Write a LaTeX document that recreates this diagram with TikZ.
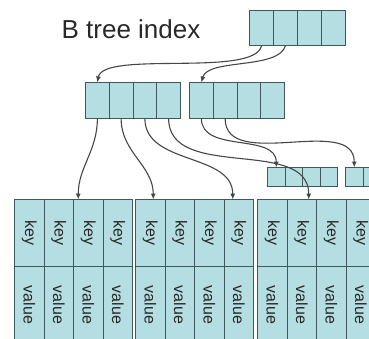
\documentclass[tikz,border=0pt]{standalone}
\usepackage{fontspec}
\setmainfont{Liberation Sans}
\usetikzlibrary{matrix,arrows.meta}
\newlength{\mydrawlinewidth}
\setlength{\mydrawlinewidth}{1pt}
\definecolor{cellfill}{RGB}{181,222,226}
\definecolor{celledge}{RGB}{62,88,92}
\definecolor{linkgray}{RGB}{70,70,70}
\definecolor{textgray}{RGB}{40,40,40}
\newcommand{\sidetext}[1]{\rotatebox{-90}{#1}}
\tikzset{
    cellgrid/.style={%
        matrix of nodes,%
        nodes in empty cells,%
        column sep=-\mydrawlinewidth,%
        row sep=-\mydrawlinewidth,%
        anchor=north west,%
        inner sep=0pt,outer sep=0pt,%
        },
    boxcell/.style={%
        rectangle,draw=celledge,fill=cellfill,
        line width=\mydrawlinewidth,
        anchor=center,
        inner sep=0pt,outer sep=0pt,
        text=textgray,
        font=\fontsize{16}{18}\selectfont,
        },
    link/.style={draw=linkgray,line width=1.1pt,-{Latex[length=6pt,width=5pt]}},
}

\begin{document}
\begin{tikzpicture}[x=1pt,y=1pt]
    \useasboundingbox (0,0) rectangle (369,-338);
    \clip (0,0) rectangle (369,-338);

    \node (title) [font=\fontsize{26}{30}\selectfont, text=textgray] at (131,-29) {B tree index};

    % index levels
    \matrix (root) [cellgrid, nodes={boxcell, minimum width=24pt, minimum height=35pt}] at (249,-10)
    {
      & & & \\
    };
    \matrix (lft) [cellgrid, nodes={boxcell, minimum width=23.75pt, minimum height=36pt}] at (85,-82)
    {
      & & & \\
    };
    \matrix (rgt) [cellgrid, nodes={boxcell, minimum width=23.75pt, minimum height=36pt}] at (189,-82)
    {
      & & & \\
    };
    \matrix (sma) [cellgrid, nodes={boxcell, minimum width=17.5pt, minimum height=19pt}] at (267,-167)
    {
      & & & \\
    };
    \matrix (smb) [cellgrid, nodes={boxcell, minimum width=17.5pt, minimum height=19pt}] at (345,-167)
    {
      & & & \\
    };

    % leaves
    \foreach \leaf/\lx in {leafa/14, leafb/135, leafc/257} {
        \matrix (\leaf) [cellgrid, ampersand replacement=\&,
            nodes={boxcell, minimum width=29.5pt},
            row 1/.style={nodes={minimum height=67pt}},
            row 2/.style={nodes={minimum height=77pt}}] at (\lx,-199)
        {
          \sidetext{key} \& \sidetext{key} \& \sidetext{key} \& \sidetext{key}\\
          \sidetext{value} \& \sidetext{value} \& \sidetext{value} \& \sidetext{value}\\
        };
    }

    % pointers
    \draw[link] (root-1-1.south) to[out=-100,in=80,looseness=0.5] (lft-1-1.north);
    \draw[link] (root-1-2.south) to[out=-105,in=75,looseness=0.7] (rgt-1-1.north);
    \draw[link] (lft-1-1.south) to[out=-90,in=90] ([xshift=-10pt]leafa-1-3.north);
    \draw[link] (lft-1-2.south) to[out=-90,in=90] ([xshift=3pt]leafb-1-1.north);
    \draw[link] (lft-1-3.south) to[out=-90,in=90] ([xshift=-6pt]leafb-1-4.north);
    \draw[link] (lft-1-4.south) to[out=-90,in=90] ([xshift=7pt]leafc-1-2.north);
    \draw[link] (rgt-1-1.south) to[out=-90,in=90] (sma-1-1.north);
    \draw[link] (rgt-1-2.south) to[out=-90,in=90] (smb-1-1.north);
\end{tikzpicture}
\end{document}
